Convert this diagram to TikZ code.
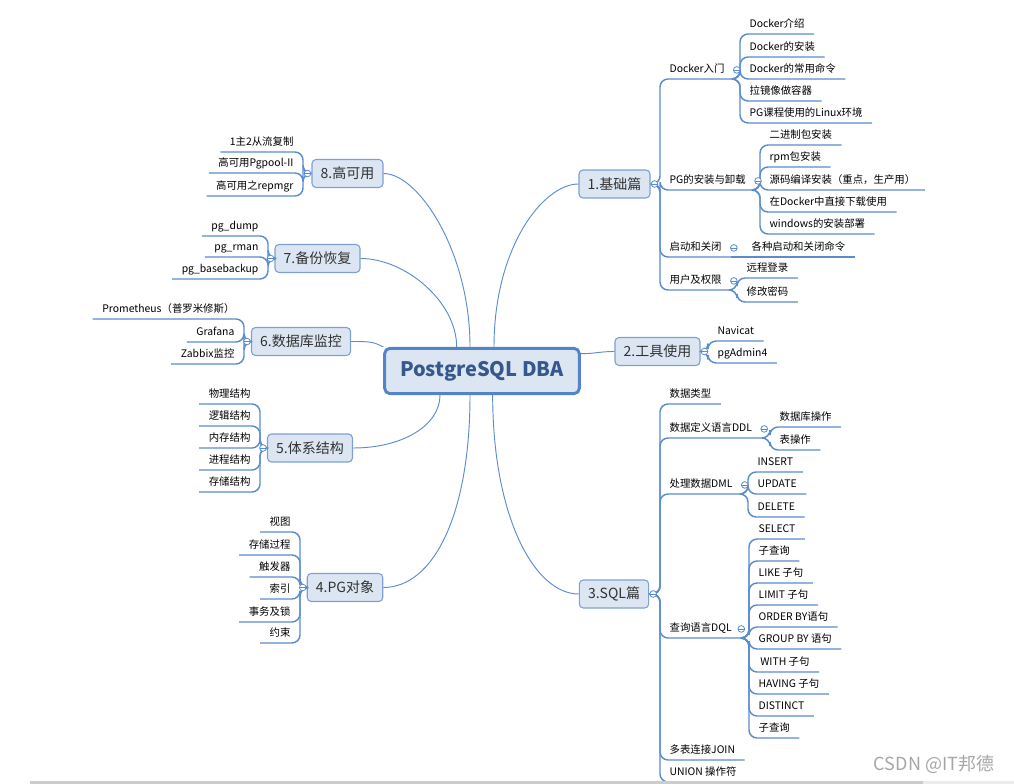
\documentclass[tikz,border=0pt]{standalone}
\usepackage{fontspec}
\setmainfont{Noto Sans CJK SC}
\usepackage{tikz}
\usetikzlibrary{positioning, calc}

\definecolor{lineblue}{RGB}{91,140,207}
\definecolor{boxblue}{RGB}{125,160,212}
\definecolor{boxfill}{RGB}{220,230,242}
\definecolor{rootblue}{RGB}{84,132,200}
\definecolor{roottext}{RGB}{55,88,140}
\definecolor{topictext}{RGB}{50,50,50}

\tikzset{
    root/.style={draw=rootblue, fill=boxfill, line width=2.2pt, rounded corners=4pt,
        minimum width=146pt, minimum height=34pt, text=roottext,
        font=\fontsize{15}{17}\selectfont\bfseries},
    topic/.style={draw=boxblue, fill=boxfill, line width=0.8pt, rounded corners=3pt,
        minimum height=21pt, inner xsep=6.5pt, text=topictext,
        font=\fontsize{10.5}{12}\selectfont},
    leaf/.style={inner xsep=7pt, inner ysep=2.6pt, text height=6.2pt, text depth=1.8pt,
        font=\fontsize{7.8}{9}\selectfont},
    leafr/.style={leaf, anchor=south west},
    leafl/.style={leaf, anchor=south east},
    conn/.style={draw=lineblue, line width=1.1pt, rounded corners=6pt},
    branch/.style={draw=lineblue, line width=0.7pt},
    marker/.style={circle, draw=lineblue, fill=white, inner sep=0pt, minimum size=5pt,
        line width=0.6pt,
        path picture={\draw[lineblue, line width=0.4pt]
            (path picture bounding box.west) -- (path picture bounding box.east);}}
}

\begin{document}
\begin{tikzpicture}[x=0.75pt, y=-0.75pt]
    \useasboundingbox (0,0) rectangle (1014,784);

    % --- Central topic ---
    \node[root] (root) at (482,371) {PostgreSQL DBA};

    % --- Main branches ---
    \node[topic] (b1) at (614.5,184) {1.基础篇};
    \node[topic] (b2) at (657.5,351.5) {2.工具使用};
    \node[topic] (b3) at (614,594) {3.SQL篇};
    \node[topic] (b4) at (345,587.5) {4.PG对象};
    \node[topic] (b5) at (310,448) {5.体系结构};
    \node[topic] (b6) at (301,341.5) {6.数据库监控};
    \node[topic] (b7) at (317.5,258.5) {7.备份恢复};
    \node[topic] (b8) at (347.5,173.5) {8.高可用};

    \draw[branch] (b1.west) .. controls +(-35,0) and +(0,-100) .. ([xshift=9pt]root.north);
    \draw[branch] (b2.west) .. controls +(-15,0) and +(15,0) .. ([yshift=13pt]root.east);
    \draw[branch] (b3.west) .. controls +(-45,0) and +(0,120) .. ([xshift=8pt]root.south);
    \draw[branch] (b4.east) .. controls +(50,0) and +(0,120) .. ([xshift=-9pt]root.south);
    \draw[branch] (b5.east) .. controls +(50,0) and +(0,30) .. ([xshift=-31.5pt]root.south);
    \draw[branch] (b6.east) .. controls +(20,0) and +(-10,-5) .. (root.north west);
    \draw[branch] (b7.east) .. controls +(45,0) and +(0,-45) .. ([xshift=-19pt]root.north);
    \draw[branch] (b8.east) .. controls +(35,0) and +(0,-95) .. ([xshift=-9pt]root.north);

    % --- 1.基础篇 ---
    \node[leafr] (dock) at (660,79) {Docker入门};
    \node[leafr] (pginst) at (660,190) {PG的安装与卸载};
    \node[leafr] (startstop) at (660,257) {启动和关闭};
    \node[leafr] (userperm) at (660,290) {用户及权限};
    \draw[conn] (b1.east) -| (dock.south west) -- (dock.south east);
    \draw[conn] (b1.east) -| (pginst.south west) -- (pginst.south east);
    \draw[conn] (b1.east) -| (startstop.south west) -- (startstop.south east);
    \draw[conn] (b1.east) -| (userperm.south west) -- (userperm.south east);

    \node[leafr] (dock1) at (740,34) {Docker介绍};
    \node[leafr] (dock2) at (740,57) {Docker的安装};
    \node[leafr] (dock3) at (740,79) {Docker的常用命令};
    \node[leafr] (dock4) at (740,101) {拉镜像做容器};
    \node[leafr] (dock5) at (740,123) {PG课程使用的Linux环境};
    \draw[conn] (dock.south east) -| (dock1.south west) -- (dock1.south east);
    \draw[conn] (dock.south east) -| (dock2.south west) -- (dock2.south east);
    \draw[conn] (dock.south east) -| (dock3.south west) -- (dock3.south east);
    \draw[conn] (dock.south east) -| (dock4.south west) -- (dock4.south east);
    \draw[conn] (dock.south east) -| (dock5.south west) -- (dock5.south east);

    \node[leafr] (inst1) at (760,145) {二进制包安装};
    \node[leafr] (inst2) at (760,167) {rpm包安装};
    \node[leafr] (inst3) at (760,190) {源码编译安装（重点，生产用）};
    \node[leafr] (inst4) at (760,212) {在Docker中直接下载使用};
    \node[leafr] (inst5) at (760,234) {windows的安装部署};
    \draw[conn] (pginst.south east) -| (inst1.south west) -- (inst1.south east);
    \draw[conn] (pginst.south east) -| (inst2.south west) -- (inst2.south east);
    \draw[conn] (pginst.south east) -| (inst3.south west) -- (inst3.south east);
    \draw[conn] (pginst.south east) -| (inst4.south west) -- (inst4.south east);
    \draw[conn] (pginst.south east) -| (inst5.south west) -- (inst5.south east);

    \node[leafr] (ss1) at (742,257) {各种启动和关闭命令};
    \draw[conn] (startstop.south east) -- (ss1.south west) -- (ss1.south east);

    \node[leafr] (up1) at (737,278) {远程登录};
    \node[leafr] (up2) at (737,302) {修改密码};
    \draw[conn] (userperm.south east) -| (up1.south west) -- (up1.south east);
    \draw[conn] (userperm.south east) -| (up2.south west) -- (up2.south east);

    % --- 2.工具使用 ---
    \node[leafr] (nav) at (708,341) {Navicat};
    \node[leafr] (pga) at (708,363) {pgAdmin4};
    \draw[conn] (b2.east) -| (nav.south west) -- (nav.south east);
    \draw[conn] (b2.east) -| (pga.south west) -- (pga.south east);

    % --- 3.SQL篇 ---
    \node[leafr] (dtype) at (660,404) {数据类型};
    \node[leafr] (ddl) at (660,438) {数据定义语言DDL};
    \node[leafr] (dml) at (660,494) {处理数据DML};
    \node[leafr] (dql) at (660,638) {查询语言DQL};
    \node[leafr] (join) at (660,760) {多表连接JOIN};
    \node[leafr] (union) at (660,782) {UNION 操作符};
    \draw[conn] (b3.east) -| (dtype.south west) -- (dtype.south east);
    \draw[conn] (b3.east) -| (ddl.south west) -- (ddl.south east);
    \draw[conn] (b3.east) -| (dml.south west) -- (dml.south east);
    \draw[conn] (b3.east) -| (dql.south west) -- (dql.south east);
    \draw[conn] (b3.east) -| (join.south west) -- (join.south east);
    \draw[conn] (b3.east) -| (union.south west) -- (union.south east);

    \node[leafr] (ddl1) at (770,427) {数据库操作};
    \node[leafr] (ddl2) at (770,450) {表操作};
    \draw[conn] (ddl.south east) -| (ddl1.south west) -- (ddl1.south east);
    \draw[conn] (ddl.south east) -| (ddl2.south west) -- (ddl2.south east);

    \node[leafr] (dml1) at (748,472) {INSERT};
    \node[leafr] (dml2) at (748,494) {UPDATE};
    \node[leafr] (dml3) at (748,517) {DELETE};
    \draw[conn] (dml.south east) -| (dml1.south west) -- (dml1.south east);
    \draw[conn] (dml.south east) -| (dml2.south west) -- (dml2.south east);
    \draw[conn] (dml.south east) -| (dml3.south west) -- (dml3.south east);

    \node[leafr] (dql1) at (749,539) {SELECT};
    \node[leafr] (dql2) at (749,561) {子查询};
    \node[leafr] (dql3) at (749,583) {LIKE 子句};
    \node[leafr] (dql4) at (749,605) {LIMIT 子句};
    \node[leafr] (dql5) at (749,627) {ORDER BY语句};
    \node[leafr] (dql6) at (749,649) {GROUP BY 语句};
    \node[leafr] (dql7) at (749,672) {\,WITH 子句};
    \node[leafr] (dql8) at (749,694) {HAVING 子句};
    \node[leafr] (dql9) at (749,716) {DISTINCT};
    \node[leafr] (dql10) at (749,738) {子查询};
    \draw[conn] (dql.south east) -| (dql1.south west) -- (dql1.south east);
    \draw[conn] (dql.south east) -| (dql2.south west) -- (dql2.south east);
    \draw[conn] (dql.south east) -| (dql3.south west) -- (dql3.south east);
    \draw[conn] (dql.south east) -| (dql4.south west) -- (dql4.south east);
    \draw[conn] (dql.south east) -| (dql5.south west) -- (dql5.south east);
    \draw[conn] (dql.south east) -| (dql6.south west) -- (dql6.south east);
    \draw[conn] (dql.south east) -| (dql7.south west) -- (dql7.south east);
    \draw[conn] (dql.south east) -| (dql8.south west) -- (dql8.south east);
    \draw[conn] (dql.south east) -| (dql9.south west) -- (dql9.south east);
    \draw[conn] (dql.south east) -| (dql10.south west) -- (dql10.south east);

    % --- 4.PG对象 ---
    \node[leafl] (obj1) at (300,532) {视图};
    \node[leafl] (obj2) at (300,555) {存储过程};
    \node[leafl] (obj3) at (300,577) {触发器};
    \node[leafl] (obj4) at (300,599) {索引};
    \node[leafl] (obj5) at (300,622) {事务及锁};
    \node[leafl] (obj6) at (300,643) {约束};
    \draw[conn] (b4.west) -| (obj1.south east) -- (obj1.south west);
    \draw[conn] (b4.west) -| (obj2.south east) -- (obj2.south west);
    \draw[conn] (b4.west) -| (obj3.south east) -- (obj3.south west);
    \draw[conn] (b4.west) -| (obj4.south east) -- (obj4.south west);
    \draw[conn] (b4.west) -| (obj5.south east) -- (obj5.south west);
    \draw[conn] (b4.west) -| (obj6.south east) -- (obj6.south west);

    % --- 5.体系结构 ---
    \node[leafl] (arch1) at (260,404) {物理结构};
    \node[leafl] (arch2) at (260,426) {逻辑结构};
    \node[leafl] (arch3) at (260,448) {内存结构};
    \node[leafl] (arch4) at (260,470) {进程结构};
    \node[leafl] (arch5) at (260,492) {存储结构};
    \draw[conn] (b5.west) -| (arch1.south east) -- (arch1.south west);
    \draw[conn] (b5.west) -| (arch2.south east) -- (arch2.south west);
    \draw[conn] (b5.west) -| (arch3.south east) -- (arch3.south west);
    \draw[conn] (b5.west) -| (arch4.south east) -- (arch4.south west);
    \draw[conn] (b5.west) -| (arch5.south east) -- (arch5.south west);

    % --- 6.数据库监控 ---
    \node[leafl] (mon1) at (244,319) {Prometheus（普罗米修斯）};
    \node[leafl] (mon2) at (244,342) {Grafana};
    \node[leafl] (mon3) at (244,364) {Zabbix监控};
    \draw[conn] (b6.west) -| (mon1.south east) -- (mon1.south west);
    \draw[conn] (b6.west) -| (mon2.south east) -- (mon2.south west);
    \draw[conn] (b6.west) -| (mon3.south east) -- (mon3.south west);

    % --- 7.备份恢复 ---
    \node[leafl] (bak1) at (268,236) {pg\_dump};
    \node[leafl] (bak2) at (268,257) {pg\_rman};
    \node[leafl] (bak3) at (268,279) {pg\_basebackup};
    \draw[conn] (b7.west) -| (bak1.south east) -- (bak1.south west);
    \draw[conn] (b7.west) -| (bak2.south east) -- (bak2.south west);
    \draw[conn] (b7.west) -| (bak3.south east) -- (bak3.south west);

    % --- 8.高可用 ---
    \node[leafl] (ha1) at (303,152) {1主2从流复制};
    \node[leafl] (ha2) at (303,173) {高可用Pgpool-II};
    \node[leafl] (ha3) at (303,196) {高可用之repmgr};
    \draw[conn] (b8.west) -| (ha1.south east) -- (ha1.south west);
    \draw[conn] (b8.west) -| (ha2.south east) -- (ha2.south west);
    \draw[conn] (b8.west) -| (ha3.south east) -- (ha3.south west);

    % --- collapse markers ---
    \node[marker] (mk1) at ([xshift=3pt]b1.east) {};
    \node[marker] (mk2) at ([xshift=3pt]b2.east) {};
    \node[marker] (mk3) at ([xshift=3pt]b3.east) {};
    \node[marker] (mk4) at ([xshift=-3pt]b4.west) {};
    \node[marker] (mk5) at ([xshift=-3pt]b5.west) {};
    \node[marker] (mk6) at ([xshift=-3pt]b6.west) {};
    \node[marker] (mk7) at ([xshift=-3pt]b7.west) {};
    \node[marker] (mk8) at ([xshift=-3pt]b8.west) {};
    \node[marker] (mkdock) at ([xshift=2pt]dock.east) {};
    \node[marker] (mkinst) at ([xshift=2pt]pginst.east) {};
    \node[marker] (mkss) at ([xshift=2pt]startstop.east) {};
    \node[marker] (mkup) at ([xshift=2pt]userperm.east) {};
    \node[marker] (mkddl) at ([xshift=2pt]ddl.east) {};
    \node[marker] (mkdml) at ([xshift=2pt]dml.east) {};
    \node[marker] (mkdql) at ([xshift=0pt]dql.east) {};

    % --- watermark and bottom bar ---
    \node[text=gray!70, font=\fontsize{13.5}{15}\selectfont] (wm) at (934,764) {CSDN @IT邦德};
    \fill[gray!40] (30,781) rectangle (923,784);
    \fill[gray!15] (923,781) rectangle (1014,784);
\end{tikzpicture}
\end{document}
